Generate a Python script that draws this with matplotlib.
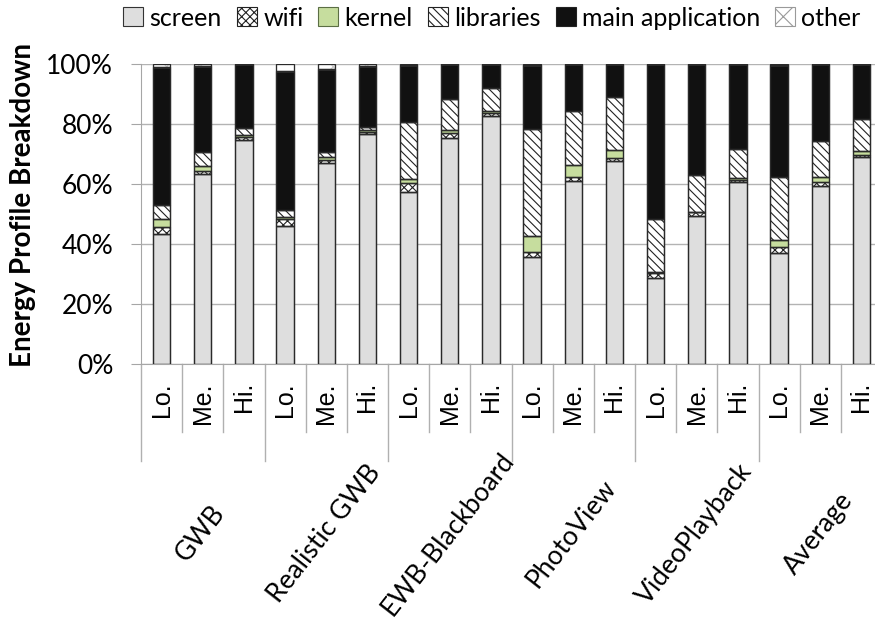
import matplotlib
matplotlib.use("Agg")
import matplotlib.pyplot as plt
from matplotlib.patches import Patch
from matplotlib.ticker import PercentFormatter
import numpy as np

# --- data -------------------------------------------------------------
apps = ["GWB", "Realistic GWB", "EWB-Blackboard", "PhotoView", "VideoPlayback", "Average"]
levels = ["Lo.", "Me.", "Hi."]
components = ["screen", "wifi", "kernel", "libraries", "main application", "other"]

# share of energy per component (%), bars ordered app by app, Lo/Me/Hi
screen = [43.3, 63.3, 74.7, 46.0, 66.9, 76.6, 57.4, 75.2, 82.7,
          35.6, 61.1, 67.7, 28.8, 49.3, 60.6, 37.1, 59.3, 68.9]
wifi = [2.3, 1.1, 0.9, 2.3, 1.2, 0.8, 3.0, 1.7, 1.1,
        1.8, 1.3, 0.9, 1.4, 1.3, 0.7, 2.0, 1.4, 0.9]
kernel = [2.6, 1.6, 0.7, 0.8, 0.8, 0.6, 1.4, 1.1, 0.6,
          5.4, 3.8, 2.6, 0.6, 0.2, 0.6, 2.2, 1.5, 1.3]
libraries = [4.8, 4.7, 2.4, 2.2, 1.9, 0.9, 19.0, 10.4, 7.6,
             35.4, 18.0, 17.9, 17.6, 12.2, 9.7, 21.1, 12.2, 10.5]
main_app = [46.1, 28.7, 21.3, 46.5, 27.6, 20.5, 18.9, 11.6, 8.0,
            21.5, 15.8, 10.9, 51.6, 37.0, 28.4, 37.3, 25.6, 18.4]
other = [0.9, 0.6, 0.0, 2.2, 1.6, 0.6, 0.3, 0.0, 0.0,
         0.3, 0.0, 0.0, 0.0, 0.0, 0.0, 0.3, 0.0, 0.0]

series = [screen, wifi, kernel, libraries, main_app, other]

# --- styling ----------------------------------------------------------
faces = ["#dedede", "white", "#c6dd9e", "white", "#111111", "white"]
hatches = [None, "xxxx", None, "\\\\\\\\", None, "x"]
hatch_edges = ["#333333", "#222222", "#5b6e44", "#222222", "#222222", "#c8c8c8"]

plt.rcParams["hatch.linewidth"] = 0.8
LABEL_FONT = ["Lato", "DejaVu Sans"]

fig = plt.figure(figsize=(8.75, 6.3), dpi=100)
W, H = 875, 630
AX_L, AX_R, AX_B, AX_T = 141, 882, 364, 64
ax = fig.add_axes([AX_L / W, 1 - AX_B / H, (AX_R - AX_L) / W, (AX_B - AX_T) / H])

n = len(screen)
x = np.arange(n)
bw = 0.42
bottom = np.zeros(n)
for vals, fc, ht, ec in zip(series, faces, hatches, hatch_edges):
    v = np.array(vals)
    ax.bar(x, v, bw, bottom=bottom, color=fc, hatch=ht, edgecolor=ec,
           linewidth=0.9, zorder=3)
    # dark outline over each segment
    ax.bar(x, v, bw, bottom=bottom, fill=False, edgecolor="#2a2a2a",
           linewidth=0.9, zorder=4)
    bottom += v

ax.set_xlim(-0.5, n - 0.5)
ax.set_ylim(0, 100)
ax.set_yticks(np.arange(0, 101, 20))
ax.yaxis.set_major_formatter(PercentFormatter(decimals=0))
ax.grid(axis="y", color="#b3b3b3", linewidth=1.0, zorder=0)
ax.set_axisbelow(True)

for side in ["top", "right"]:
    ax.spines[side].set_visible(False)
ax.spines["left"].set_color("#a6a6a6")
ax.spines["bottom"].set_color("#a6a6a6")

ax.tick_params(axis="y", direction="out", length=7, color="#a6a6a6",
               labelsize=19, pad=13)
for lbl in ax.get_yticklabels():
    lbl.set_family(LABEL_FONT)

ax.set_xticks(x)
ax.set_xticklabels(levels * len(apps), rotation=90,
                   family=["Liberation Sans", "DejaVu Sans"], fontsize=18)
ax.tick_params(axis="x", length=0, pad=13)

ax.set_ylabel("Energy Profile Breakdown", family=LABEL_FONT,
              fontsize=20, fontweight="bold")
ax.yaxis.set_label_coords((36 - AX_L) / (AX_R - AX_L), 0.53)

# category separators under the axis
xt = ax.get_xaxis_transform()
for b in np.arange(-0.5, n, 1.0):
    is_group = int(round(b + 0.5)) % 3 == 0
    depth = -0.323 if is_group else -0.227
    ax.plot([b, b], [0, depth], transform=xt, color="#b0b0b0",
            linewidth=1.0, clip_on=False)

# application names
for i, app in enumerate(apps):
    cx = 3 * i + 1 - 0.05
    ax.text(cx, -0.565, app, transform=xt, rotation=52, ha="center",
            va="center", rotation_mode="anchor", family=LABEL_FONT,
            fontsize=19)

handles = [Patch(facecolor=fc, hatch=ht, edgecolor=ec, linewidth=0.8)
           for fc, ht, ec in zip(faces, hatches, hatch_edges)]
handles[-1].set_edgecolor("#9a9a9a")
fig.legend(handles, components, loc="center",
           bbox_to_anchor=(492 / W, 1 - 18 / H), ncol=6, frameon=False,
           prop={"family": LABEL_FONT, "size": 18}, handlelength=0.8,
           handleheight=0.8, handletextpad=0.25, columnspacing=0.6,
           borderpad=0.1)

fig.savefig("out.png", dpi=100)
